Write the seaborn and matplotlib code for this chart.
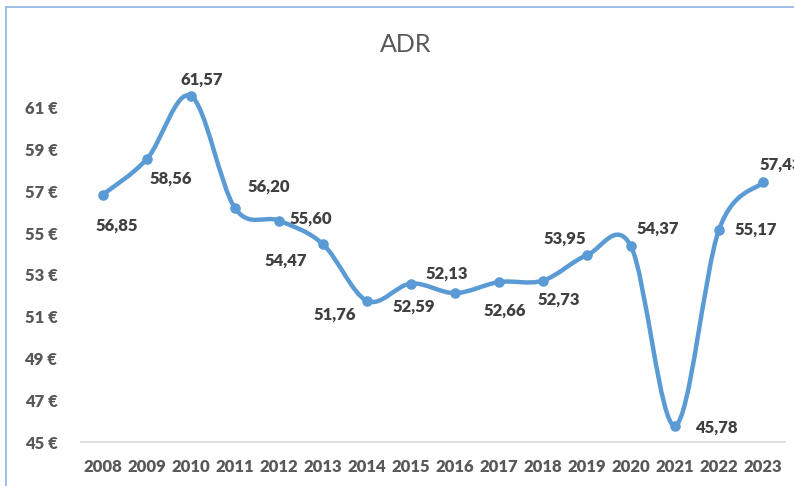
import numpy as np
import pandas as pd
import matplotlib
matplotlib.use("Agg")
import matplotlib.pyplot as plt
from matplotlib.path import Path
from matplotlib.patches import PathPatch
from matplotlib.lines import Line2D
import seaborn as sns

# ------------------------------------------------------------
# data
# ------------------------------------------------------------
years = [2008, 2009, 2010, 2011, 2012, 2013, 2014, 2015,
         2016, 2017, 2018, 2019, 2020, 2021, 2022, 2023]
adr = [56.85, 58.56, 61.57, 56.20, 55.60, 54.47, 51.76, 52.59,
       52.13, 52.66, 52.73, 53.95, 54.37, 45.78, 55.17, 57.43]
y_ticks = [45, 47, 49, 51, 53, 55, 57, 59, 61]

# label offsets (pixels) from each point, as placed in the original chart
label_offsets = [(14, -31), (24, -20), (11, 16), (34, 21), (32, 2), (-37, -16),
                 (-32, -14), (3, -23), (-8, 19), (6, -29), (16, -19), (-22, 16),
                 (27, 18), (41, -2), (37, 0), (18, 18)]

BLUE = "#5B9BD5"
DARK = "#404040"
GREY = "#595959"

df = pd.DataFrame({"idx": np.arange(len(years)), "year": years, "adr": adr})

sns.set_theme(style="white")
plt.rcParams["font.family"] = ["Lato", "DejaVu Sans"]

fig = plt.figure(figsize=(7.94, 4.86), dpi=100)
ax = fig.add_axes([81 / 794, 1 - 442 / 486, 704 / 794, 355 / 486])


def smooth_path(x, y):
    # Excel-like smoothed line: cubic Bezier through points (Catmull-Rom)
    pts = np.column_stack([x, y]).astype(float)
    n = len(pts)
    verts = [pts[0]]
    codes = [Path.MOVETO]
    for i in range(n - 1):
        p0 = pts[i - 1] if i > 0 else pts[i]
        p1 = pts[i]
        p2 = pts[i + 1]
        p3 = pts[i + 2] if i + 2 < n else pts[i + 1]
        c1 = p1 + (p2 - p0) / 6
        c2 = p2 - (p3 - p1) / 6
        verts += [c1, c2, p2]
        codes += [Path.CURVE4] * 3
    return Path(verts, codes)


ax.add_patch(PathPatch(smooth_path(df["idx"], df["adr"]), facecolor="none",
                       edgecolor=BLUE, lw=3.2, capstyle="round", zorder=2))
sns.scatterplot(data=df, x="idx", y="adr", ax=ax, color=BLUE, s=58,
                edgecolor=BLUE, linewidth=0, zorder=3, legend=False)

for i, (v, off) in enumerate(zip(df["adr"], label_offsets)):
    ax.annotate(f"{v:.2f}".replace(".", ","), (i, v), xytext=off,
                textcoords="offset pixels", ha="center", va="center",
                fontsize=12, fontweight="heavy", color=DARK,
                annotation_clip=False)

ax.set_xlim(-0.5, len(years) - 0.5)
ax.set_ylim(45, 62)
ax.set_xticks(df["idx"])
ax.set_xticklabels([str(y) for y in years], fontsize=12, fontweight="heavy", color=GREY)
ax.set_yticks(y_ticks)
ax.set_yticklabels([f"{t} €" for t in y_ticks], fontsize=12, fontweight="heavy", color=GREY)
ax.tick_params(axis="x", length=0, pad=12)
ax.tick_params(axis="y", length=0, pad=17)
ax.set_xlabel("")
ax.set_ylabel("")
for side in ["top", "right", "left"]:
    ax.spines[side].set_visible(False)
ax.spines["bottom"].set_color("#D9D9D9")
ax.spines["bottom"].set_linewidth(1.2)
ax.grid(False)

fig.text(406 / 794, 1 - 45 / 486, "ADR", ha="center", va="center",
         fontsize=18, color=GREY)

# chart frame (only left and top edges visible in the crop)
x0, y0 = 6 / 794, 1 - 7 / 486
fig.add_artist(Line2D([x0, x0], [0, y0], transform=fig.transFigure, color="#8EB4E3", lw=1.2))
fig.add_artist(Line2D([x0, 1], [y0, y0], transform=fig.transFigure, color="#8EB4E3", lw=1.2))

fig.savefig("out.png", dpi=100)
